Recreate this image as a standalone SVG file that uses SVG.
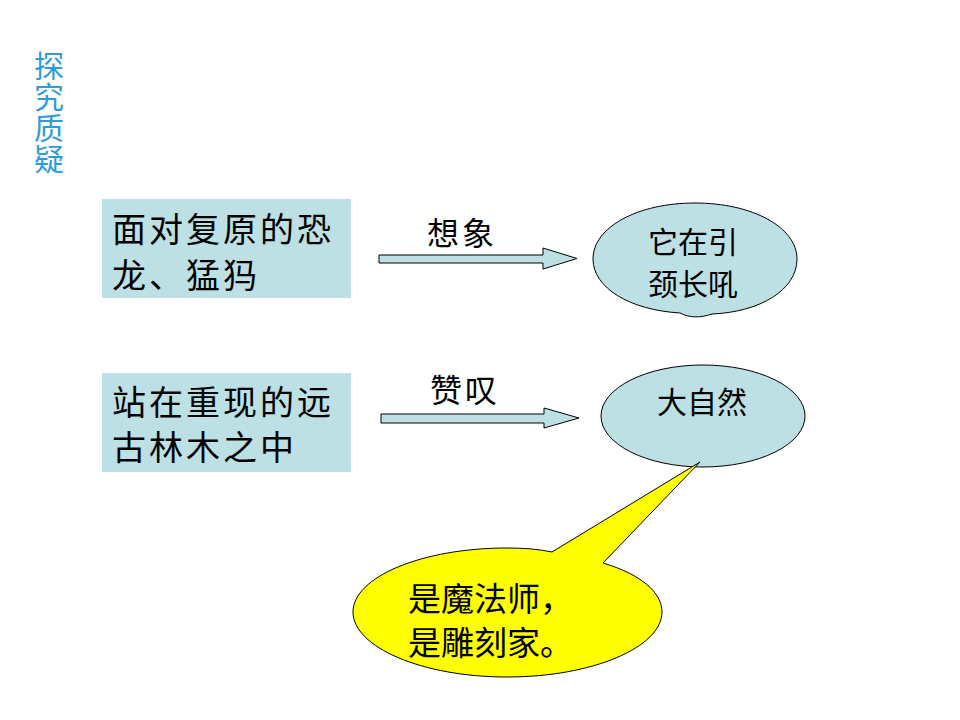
<svg xmlns="http://www.w3.org/2000/svg" width="960" height="720" viewBox="0 0 960 720">
<style>
text{font-family:"Noto Sans CJK SC","Noto Sans",sans-serif;fill:#000}
.box{fill:#BCE0E4}
.t34{font-size:34px;letter-spacing:3px}
.t32{font-size:32px;letter-spacing:3px}
.t30{font-size:30px}
.bub{fill:#BCE0E4;stroke:#000;stroke-width:1}
.arr{fill:#BCE0E4;stroke:#000;stroke-width:1}
.side{font-size:30px;fill:#2E9BDC;writing-mode:vertical-rl;letter-spacing:1px}
</style>
<rect width="960" height="720" fill="#fff"/>
<g id="title">
<text class="side" x="49" y="51">探究质疑</text>
</g>
<g id="box1">
<rect class="box" x="102" y="199" width="249" height="99"/>
<text class="t34" x="112" y="242">面对复原的恐</text>
<text class="t34" x="112" y="288">龙、猛犸</text>
</g>
<g id="box2">
<rect class="box" x="102" y="373" width="249" height="99"/>
<text class="t34" x="112" y="415">站在重现的远</text>
<text class="t34" x="112" y="460">古林木之中</text>
</g>
<g id="bubble1">
<path class="bub" d="M695,203 C752,203 797,227 797,259 C797,290 760,312 712,314 C700,318 690,318 680,313 C630,310 593,288 593,259 C593,227 638,203 695,203 Z"/>
<text class="t30" x="693" y="253" text-anchor="middle">它在引</text>
<text class="t30" x="693" y="295" text-anchor="middle">颈长吼</text>
</g>
<g id="bubble2">
<ellipse class="bub" cx="703" cy="416" rx="102" ry="51"/>
<text class="t30" x="702" y="413" text-anchor="middle">大自然</text>
</g>
<g id="callout">
<path d="M552,552 L700,462 L603,563 C640,574 662,592 662,612 C662,647 593,677 507,677 C422,677 353,647 353,612 C353,577 422,548 507,548 C523,548 538,549 552,552 Z" fill="#FFFF00" stroke="#000" stroke-width="1"/>
<text style="font-size:33px" x="408" y="611">是魔法师，</text>
<text style="font-size:33px" x="408" y="655">是雕刻家。</text>
</g>
<g id="connectors">
<path class="arr" d="M379,255 L543,255 L543,248 L577,258.5 L543,269 L543,263 L379,263 Z"/>
<text class="t32" x="427" y="245">想象</text>
<path class="arr" d="M381,414 L544,414 L544,408 L579,418 L544,428 L544,423 L381,423 Z"/>
<text class="t32" x="430" y="402">赞叹</text>
</g>
</svg>
